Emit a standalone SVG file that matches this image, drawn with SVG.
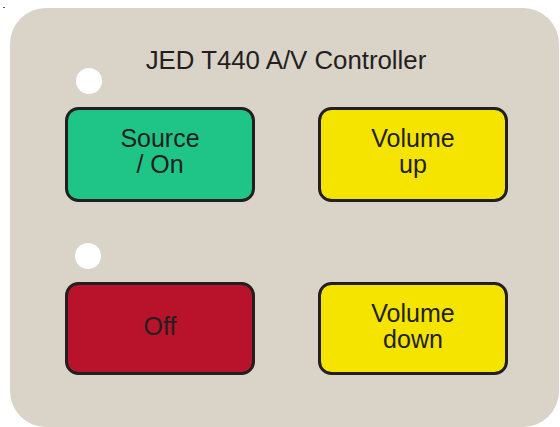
<svg xmlns="http://www.w3.org/2000/svg" width="560" height="427" viewBox="0 0 560 427">
<style>
.btn{stroke:#231f20;stroke-width:3}
.lbl{font-family:"Liberation Sans",Arial,sans-serif;font-size:25px;fill:#231f20;text-anchor:middle}
.led{fill:#ffffff}
</style>
<rect x="0" y="0" width="560" height="427" fill="#ffffff"/>
<rect x="3" y="7" width="2" height="1" fill="#555"/>
<g id="panel">
<rect x="10" y="8" width="549" height="419" rx="36" fill="#d9d3c8"/>
<text class="lbl" x="286" y="69" style="font-size:25.8px">JED T440 A/V Controller</text>
</g>
<g id="led-top"><circle class="led" cx="89" cy="81" r="13"/></g>
<g id="led-bottom"><circle class="led" cx="88" cy="256" r="13"/></g>
<g id="source-on">
<rect class="btn" x="66.5" y="108.5" width="187" height="92" rx="12" fill="#1fc487"/>
<text class="lbl" x="160" y="147">Source</text>
<text class="lbl" x="160" y="173">/ On</text>
</g>
<g id="volume-up">
<rect class="btn" x="319.5" y="108.5" width="187" height="92" rx="12" fill="#f5e400"/>
<text class="lbl" x="413" y="147">Volume</text>
<text class="lbl" x="413" y="173">up</text>
</g>
<g id="off">
<rect class="btn" x="66.5" y="283.5" width="187" height="90" rx="12" fill="#b8132b"/>
<text class="lbl" x="160" y="335">Off</text>
</g>
<g id="volume-down">
<rect class="btn" x="319.5" y="283.5" width="187" height="90" rx="12" fill="#f5e400"/>
<text class="lbl" x="413" y="322">Volume</text>
<text class="lbl" x="413" y="348">down</text>
</g>
<g id="connectors"></g>
</svg>
